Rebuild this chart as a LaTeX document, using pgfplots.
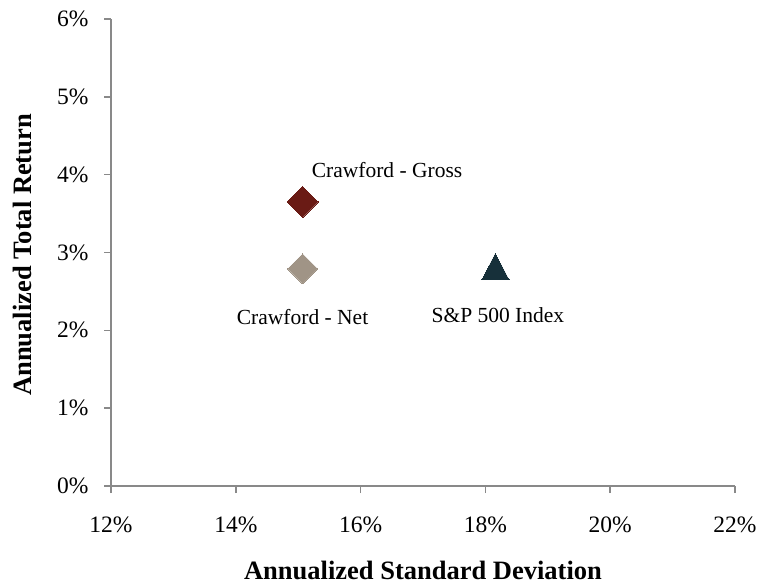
\documentclass[border=0pt]{standalone}
\usepackage{fontspec}
\setmainfont{Liberation Serif}
\usepackage{pgfplots}
\pgfplotsset{compat=1.18}
\definecolor{gross}{HTML}{6A1B15}
\definecolor{net}{HTML}{A09486}
\definecolor{spx}{HTML}{17303A}
\definecolor{axisgray}{HTML}{898989}
\begin{document}
\begin{tikzpicture}[x=1pt,y=1pt]
\path[use as bounding box] (0,0) rectangle (769,587);
\begin{axis}[
    at={(111pt,101pt)}, anchor=south west,
    scale only axis, width=624pt, height=467pt,
    xmin=12, xmax=22, ymin=0, ymax=6,
    xtick={12,14,...,22}, ytick={0,1,...,6},
    axis x line*=bottom, axis y line*=left,
    axis line style={axisgray, line width=1.6pt},
    tick style={axisgray, line width=1.6pt},
    tick align=outside, major tick length=7pt,
    /pgf/number format/assume math mode=true,
    xticklabel={\pgfmathprintnumber{\tick}\%},
    yticklabel={\pgfmathprintnumber{\tick}\%},
    ticklabel style={font=\fontsize{23.5}{27}\selectfont},
    xticklabel style={yshift=-20pt},
    yticklabel style={xshift=-12pt},
    xlabel={Annualized Standard Deviation},
    ylabel={Annualized Total Return},
    label style={font=\fontsize{26.5}{30}\selectfont\bfseries},
    xlabel style={at={(axis description cs:0.5,-0.2010)}, anchor=base},
    ylabel style={at={(axis description cs:-0.1266,0.495)}, anchor=base},
    clip=false,
    nodes near coords style={font=\fontsize{21.5}{25}\selectfont, anchor=base, text=black},
]
\addplot[only marks, mark=square*, mark size=11pt, mark options={rotate=45, fill=gross, draw=gross, line width=0pt},
    nodes near coords={Crawford - Gross},
    nodes near coords style={xshift=84.5pt, yshift=24pt}]
    coordinates {(15.07,3.65)};
\addplot[only marks, mark=square*, mark size=10.5pt, mark options={rotate=45, fill=net, draw=net, line width=0pt},
    nodes near coords={Crawford - Net},
    nodes near coords style={xshift=0pt, yshift=-55.5pt}]
    coordinates {(15.07,2.79)};
\addplot[only marks, mark=triangle*, mark size=17.5pt, mark options={xscale=0.9, fill=spx, draw=spx, line width=0pt},
    nodes near coords={S\&P 500 Index},
    nodes near coords style={xshift=2.5pt, yshift=-51pt}]
    coordinates {(18.16,2.76)};
\end{axis}
\end{tikzpicture}
\end{document}
